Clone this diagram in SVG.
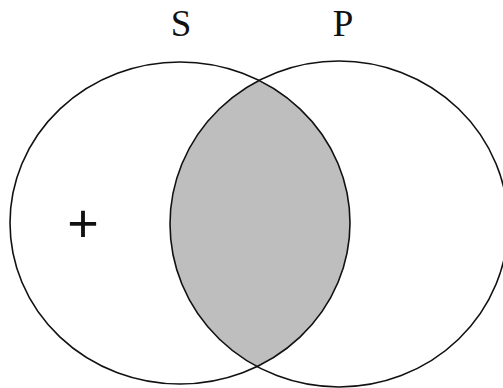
<svg xmlns="http://www.w3.org/2000/svg" width="503" height="388" viewBox="0 0 503 388">
<style>
.outline{fill:none;stroke:#111;stroke-width:1.6}
.lbl{font-family:"Liberation Serif","Times New Roman",serif;font-size:37px;fill:#111;text-anchor:middle}
</style>
<defs>
<clipPath id="clipS"><ellipse cx="180" cy="223" rx="170" ry="161"/></clipPath>
</defs>
<rect width="503" height="388" fill="#fff"/>
<g id="overlap">
<ellipse cx="339" cy="224" rx="169" ry="163" fill="#bebebe" clip-path="url(#clipS)"/>
</g>
<g id="S">
<ellipse class="outline" cx="180" cy="223" rx="170" ry="161"/>
<text class="lbl" x="181" y="36">S</text>
</g>
<g id="P">
<ellipse class="outline" cx="339" cy="224" rx="169" ry="163"/>
<text class="lbl" x="343" y="36">P</text>
</g>
<g id="mark">
<text x="83" y="242" font-family="Liberation Sans, Arial, sans-serif" font-size="54" fill="#111" text-anchor="middle">+</text>
</g>
</svg>
